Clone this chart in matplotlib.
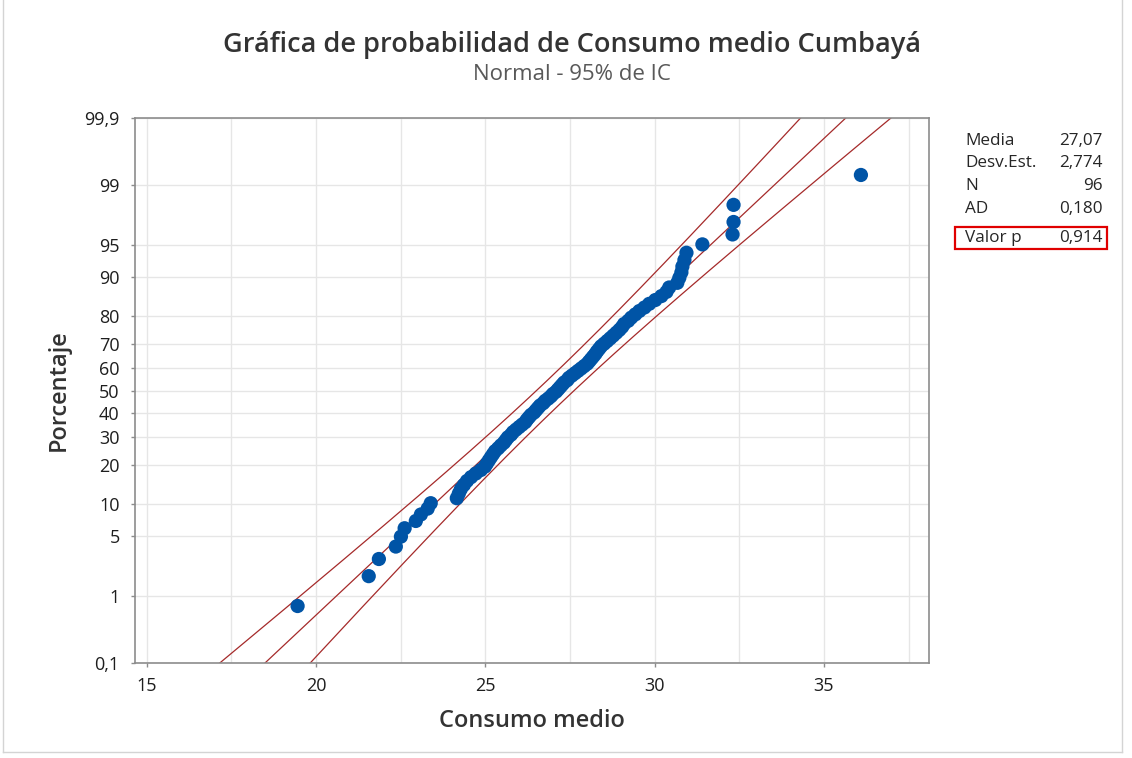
import math
import numpy as np
import matplotlib
matplotlib.use("Agg")
import matplotlib.pyplot as plt
from matplotlib.patches import Rectangle
from matplotlib.lines import Line2D

# ---------------- data ----------------
consumo = [
    19.46, 21.56, 21.86, 22.36, 22.51, 22.62, 22.95, 23.10, 23.30, 23.39,
    24.16, 24.22, 24.28, 24.37, 24.46, 24.58, 24.72, 24.87, 24.99, 25.05,
    25.11, 25.17, 25.23, 25.29, 25.38, 25.46, 25.55, 25.61, 25.67, 25.76,
    25.82, 25.91, 26.00, 26.09, 26.18, 26.23, 26.29, 26.35, 26.44, 26.50,
    26.56, 26.62, 26.71, 26.77, 26.86, 26.94, 27.00, 27.09, 27.15, 27.21,
    27.27, 27.33, 27.42, 27.47, 27.56, 27.65, 27.74, 27.83, 27.92, 28.01,
    28.07, 28.13, 28.19, 28.25, 28.30, 28.36, 28.42, 28.51, 28.60, 28.69,
    28.78, 28.87, 28.96, 29.04, 29.10, 29.22, 29.31, 29.43, 29.55, 29.70,
    29.84, 30.02, 30.20, 30.35, 30.43, 30.67, 30.73, 30.79, 30.82, 30.88,
    30.94, 31.41, 32.30, 32.33, 32.33, 36.09,
]
media = 27.07
desv = 2.774
n_obs = 96
stat_labels = ["Media", "Desv.Est.", "N", "AD", "Valor p"]
stat_values = ["27,07", "2,774", "96", "0,180", "0,914"]
y_ticks = [0.1, 1, 5, 10, 20, 30, 40, 50, 60, 70, 80, 90, 95, 99, 99.9]
y_ticklabels = ["0,1", "1", "5", "10", "20", "30", "40", "50", "60", "70",
                "80", "90", "95", "99", "99,9"]
x_ticks = [15, 20, 25, 30, 35]


# ---------------- normal helpers ----------------
def _ppf_scalar(p):
    a = [-3.969683028665376e+01, 2.209460984245205e+02, -2.759285104469687e+02,
         1.383577518672690e+02, -3.066479806614716e+01, 2.506628277459239e+00]
    b = [-5.447609879822406e+01, 1.615858368580409e+02, -1.556989798598866e+02,
         6.680131188771972e+01, -1.328068155288572e+01]
    c = [-7.784894002430293e-03, -3.223964580411365e-01, -2.400758277161838e+00,
         -2.549732539343734e+00, 4.374664141464968e+00, 2.938163982698783e+00]
    d = [7.784695709041462e-03, 3.224671290700398e-01, 2.445134137142996e+00,
         3.754408661907416e+00]
    plow = 0.02425
    if p < plow:
        q = math.sqrt(-2 * math.log(p))
        return (((((c[0]*q+c[1])*q+c[2])*q+c[3])*q+c[4])*q+c[5]) / \
               ((((d[0]*q+d[1])*q+d[2])*q+d[3])*q+1)
    if p > 1 - plow:
        q = math.sqrt(-2 * math.log(1 - p))
        return -(((((c[0]*q+c[1])*q+c[2])*q+c[3])*q+c[4])*q+c[5]) / \
                ((((d[0]*q+d[1])*q+d[2])*q+d[3])*q+1)
    q = p - 0.5
    r = q * q
    return (((((a[0]*r+a[1])*r+a[2])*r+a[3])*r+a[4])*r+a[5])*q / \
           (((((b[0]*r+b[1])*r+b[2])*r+b[3])*r+b[4])*r+1)


def pct_to_z(pct):
    arr = np.clip(np.asarray(pct, dtype=float) / 100.0, 1e-9, 1 - 1e-9)
    return np.vectorize(_ppf_scalar, otypes=[float])(arr)


def z_to_pct(z):
    z = np.asarray(z, dtype=float)
    return 100.0 * 0.5 * (1 + np.vectorize(math.erf, otypes=[float])(z / math.sqrt(2)))


# ---------------- figure ----------------
W, H = 1132, 758
fig = plt.figure(figsize=(W / 100, H / 100), dpi=100)
fig.patch.set_facecolor("white")

ax_l, ax_r, ax_t, ax_b = 135, 929, 118, 663
ax = fig.add_axes([ax_l / W, 1 - ax_b / H, (ax_r - ax_l) / W, (ax_b - ax_t) / H])
ax.set_yscale("function", functions=(pct_to_z, z_to_pct))

x_sorted = np.sort(np.array(consumo))
ranks = np.arange(1, n_obs + 1)
plot_pos = (ranks - 0.3) / (n_obs + 0.4) * 100

# fitted line and 95% CI
pct_grid = np.linspace(0.05, 99.95, 600)
zg = pct_to_z(pct_grid)
fit = media + zg * desv
se = desv / math.sqrt(n_obs) * np.sqrt(1 + zg ** 2 / 2)
line_col = "#A52A2A"
for xs in (fit - 1.96 * se, fit, fit + 1.96 * se):
    ax.plot(xs, pct_grid, color=line_col, lw=0.9, zorder=2)

ax.scatter(x_sorted, plot_pos, s=105, color="#0054A6", edgecolors="none", zorder=3)

ax.set_xlim(14.66, 38.1)
ax.set_ylim(0.1, 99.9)
ax.set_xticks(x_ticks)
ax.set_xticks(np.arange(15, 38.1, 2.5), minor=True)
ax.set_yticks(y_ticks)
ax.set_yticklabels(y_ticklabels)
ax.yaxis.set_minor_locator(matplotlib.ticker.NullLocator())
ax.grid(True, which="both", axis="x", color="#E6E6E6", lw=1.0, zorder=0)
ax.grid(True, which="major", axis="y", color="#E6E6E6", lw=1.0, zorder=0)
ax.set_axisbelow(True)

for s in ax.spines.values():
    s.set_color("#8C8C8C")
    s.set_linewidth(1.2)
ax.tick_params(axis="both", which="major", direction="out", length=3, width=1,
               color="#8C8C8C", labelsize=13, labelcolor="#1E1E1E")
ax.tick_params(axis="y", pad=8)
ax.tick_params(axis="x", pad=7)
ax.tick_params(axis="x", which="minor", length=0)
for lab in ax.get_xticklabels() + ax.get_yticklabels():
    lab.set_family("Open Sans")

ax.set_xlabel("Consumo medio", fontsize=17, color="#333333", family="Open Sans",
              fontweight="semibold", labelpad=10)
ax.set_ylabel("Porcentaje", fontsize=17, color="#333333", family="Open Sans",
              fontweight="semibold", labelpad=10)

fig.text(572 / W, 1 - 45 / H, "Gráfica de probabilidad de Consumo medio Cumbayá",
         ha="center", va="center", fontsize=19.5, color="#333333",
         family="Open Sans", fontweight="semibold")
fig.text(572 / W, 1 - 75 / H, "Normal - 95% de IC", ha="center", va="center",
         fontsize=16, color="#595959", family="Open Sans")

# stats table
row_y = [141, 163, 186, 209, 238]
for lab, val, yy in zip(stat_labels, stat_values, row_y):
    fig.text(965 / W, 1 - yy / H, lab, ha="left", va="center", fontsize=12.3,
             color="#262626", family="Open Sans")
    fig.text(1103 / W, 1 - yy / H, val, ha="right", va="center", fontsize=12.3,
             color="#262626", family="Open Sans")
fig.add_artist(Rectangle((955 / W, 1 - 249 / H), (1107 - 955) / W, 22 / H,
                         transform=fig.transFigure, fill=False,
                         edgecolor="#E00000", lw=1.6))

# outer window frame
frame_col = "#D4D4D4"
fig.add_artist(Line2D([1122 / W, 1122 / W], [1 - 752 / H, 1.0],
                      transform=fig.transFigure, color=frame_col, lw=1))
fig.add_artist(Line2D([3 / W, 1122 / W], [1 - 752 / H, 1 - 752 / H],
                      transform=fig.transFigure, color=frame_col, lw=1))
fig.add_artist(Line2D([3 / W, 3 / W], [1 - 752 / H, 1.0],
                      transform=fig.transFigure, color=frame_col, lw=1))

fig.savefig("out.png", dpi=100, facecolor="white")
